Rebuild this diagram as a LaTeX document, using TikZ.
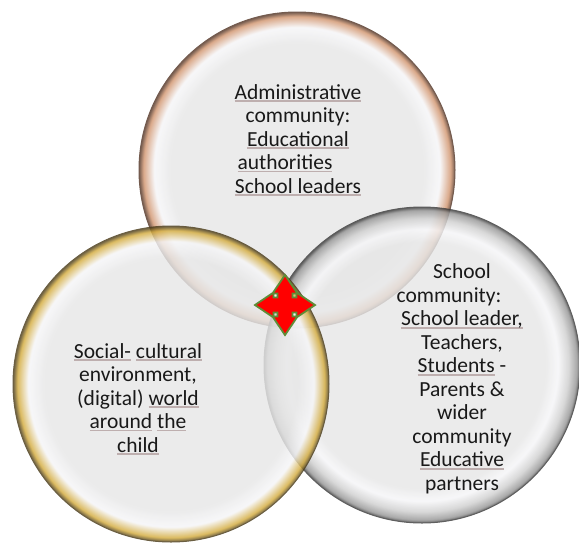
\documentclass[tikz,border=0pt]{standalone}
\usepackage{fontspec}
\setmainfont{Carlito}
\definecolor{inner}{RGB}{231,231,231}
\definecolor{glow}{RGB}{246,246,248}
\definecolor{admrim}{RGB}{210,150,112}
\definecolor{admedge}{RGB}{85,55,40}
\definecolor{socrim}{RGB}{212,172,62}
\definecolor{socedge}{RGB}{75,60,25}
\definecolor{schmid}{RGB}{208,208,208}
\definecolor{schrim}{RGB}{150,150,150}
\definecolor{schedge}{RGB}{60,60,60}
\definecolor{ulc}{RGB}{190,175,175}
\definecolor{arrowred}{RGB}{255,0,0}
\definecolor{arrowgreen}{RGB}{95,140,55}
\pgfdeclareradialshading{admsh}{\pgfpoint{0bp}{0bp}}{color(0bp)=(inner); color(20bp)=(inner); color(22.6bp)=(glow); color(24.3bp)=(admrim); color(25bp)=(admedge); color(50bp)=(admedge)}
\pgfdeclareradialshading{socsh}{\pgfpoint{0bp}{0bp}}{color(0bp)=(inner); color(20bp)=(inner); color(22.6bp)=(glow); color(24.3bp)=(socrim); color(25bp)=(socedge); color(50bp)=(socedge)}
\pgfdeclareradialshading{schsh}{\pgfpoint{0bp}{0bp}}{color(0bp)=(inner); color(19.5bp)=(inner); color(21.5bp)=(glow); color(23.2bp)=(schmid); color(24.5bp)=(schrim); color(25bp)=(schedge); color(50bp)=(schedge)}
\newlength\myulw
\newcommand\myul[1]{\settowidth\myulw{#1}\rlap{\color{ulc}\rule[-2.6pt]{\myulw}{1.3pt}}#1}
\newcommand\trail{\makebox[26pt]{}}
\tikzset{
  ring/.style={circle, inner sep=0pt, outer sep=0pt, minimum size=316pt, line width=1pt, shade},
  txt/.style={align=center, inner sep=0pt, text=black!90, font=\fontsize{21.5}{23.5}\selectfont}
}
\begin{document}
\begin{tikzpicture}[x=1pt,y=-1pt]
\useasboundingbox (0,0) rectangle (579,542);
\fill[white] (0,0) rectangle (579,542);
\begin{scope}[transparency group, opacity=0.82]
\node[ring, shading=admsh, draw=admedge] (adm) at (297,170) {};
\end{scope}
\begin{scope}[transparency group, opacity=0.82]
\node[ring, shading=schsh, draw=schedge] (sch) at (422,365) {};
\end{scope}
\begin{scope}[transparency group, opacity=0.82]
\node[ring, shading=socsh, draw=socedge] (soc) at (171,384) {};
\end{scope}
\node[txt] (admtxt) at (298,140) {\myul{Administrative}\\ community:\\ \myul{Educational}\\ \myul{authorities}\trail\\ \myul{School leaders}};
\node[txt] (schtxt) at (462,379) {School\\ community:\trail\\ \myul{School leader,}\\ Teachers,\\ \myul{Students} -\\ Parents \&\\ wider\\ community\\ \myul{Educative}\\ partners};
\node[txt] (soctxt) at (138,399) {\myul{Social-} \myul{cultural}\\ environment,\\ (digital) \myul{world}\\ \myul{around} \myul{the}\\ \myul{child}};
\draw[fill=arrowred, draw=arrowgreen, line width=1.8pt, line join=miter, shift={(285,305)}]
 (0,-30) -- (12.5,-11.5) -- (7.5,-11.5) -- (7.5,-7.5) -- (11.5,-7.5) -- (11.5,-12.5)
 -- (30,0) -- (11.5,12.5) -- (11.5,7.5) -- (7.5,7.5) -- (7.5,11.5) -- (12.5,11.5)
 -- (0,30) -- (-12.5,11.5) -- (-7.5,11.5) -- (-7.5,7.5) -- (-11.5,7.5) -- (-11.5,12.5)
 -- (-30,0) -- (-11.5,-12.5) -- (-11.5,-7.5) -- (-7.5,-7.5) -- (-7.5,-11.5) -- (-12.5,-11.5) -- cycle;
\end{tikzpicture}
\end{document}
